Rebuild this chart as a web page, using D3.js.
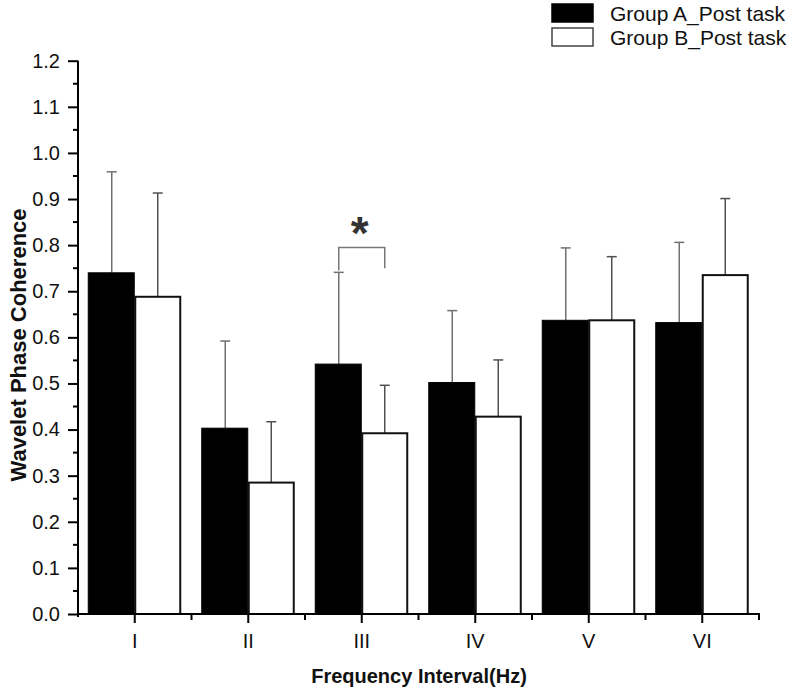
<!DOCTYPE html>
<html><head><meta charset="utf-8">
<script src="https://cdn.jsdelivr.net/npm/d3@7"></script>
<style>body{margin:0;background:#fff}svg{display:block;font-family:Arial,"Liberation Sans",sans-serif}</style>
</head><body><svg id="c" width="797" height="693"></svg>
<script>
const categories = ["I","II","III","IV","V","VI"];
const seriesNames = ["Group A_Post task","Group B_Post task"];
const groupA = [0.740,0.403,0.542,0.502,0.637,0.632];
const groupAErr = [0.219,0.189,0.199,0.156,0.157,0.174];
const groupB = [0.688,0.285,0.392,0.428,0.637,0.735];
const groupBErr = [0.225,0.132,0.104,0.123,0.138,0.166];
const yTicks = [0,0.1,0.2,0.3,0.4,0.5,0.6,0.7,0.8,0.9,1.0,1.1,1.2];

const FONT = "Arial,'Liberation Sans',sans-serif";
const svg = d3.select("#c");
const x = d3.scaleBand().domain(categories).range([78,759]).padding(0);
const y = d3.scaleLinear().domain([0,1.2]).range([614,60.7]);
const bw = 46;

const g = svg.append("g");
categories.forEach((c,i)=>{
  const cx = x(c)+x.bandwidth()/2;
  [[groupA[i],groupAErr[i],cx-bw/2,"#707070"],[groupB[i],groupBErr[i],cx+bw/2,"#505050"]].forEach(([v,e,ex,col])=>{
    g.append("line").attr("x1",ex).attr("x2",ex).attr("y1",y(v)).attr("y2",y(v+e)).attr("stroke",col).attr("stroke-width",1.5);
    g.append("line").attr("x1",ex-5).attr("x2",ex+5).attr("y1",y(v+e)).attr("y2",y(v+e)).attr("stroke",col).attr("stroke-width",1.5);
  });
  g.append("rect").attr("x",cx-bw-0.5).attr("y",y(groupA[i])).attr("width",bw).attr("height",y(0)-y(groupA[i])).attr("fill","#000").attr("stroke","#000").attr("stroke-width",1);
  g.append("rect").attr("x",cx+0.5).attr("y",y(groupB[i])).attr("width",bw-1).attr("height",y(0)-y(groupB[i])).attr("fill","#fff").attr("stroke","#111").attr("stroke-width",2);
});

// significance bracket on III
{
  const cx = x("III")+x.bandwidth()/2;
  const top = y(0.795);
  const l = cx-bw/2, r = cx+bw/2;
  g.append("path").attr("d",`M${l},${y(0.745)}V${top}H${r}V${y(0.75)}`).attr("fill","none").attr("stroke","#777").attr("stroke-width",1.5);
  g.append("text").attr("x",cx-2).attr("y",top+2).attr("text-anchor","middle").attr("font-size",46).attr("font-weight","bold").attr("fill","#333").attr("font-family",FONT).text("*");
}

// y axis
const ya = svg.append("g").attr("transform","translate(78,0)")
  .call(d3.axisLeft(y).tickValues(yTicks).tickFormat(d3.format(".1f")).tickSize(10).tickSizeOuter(0));
ya.select(".domain").attr("stroke-width",2).attr("d",`M0,${y(1.2)}V${y(0)+3}`);
ya.selectAll(".tick line").attr("stroke-width",2);
ya.selectAll("text").attr("font-size",20).attr("x",-18).attr("font-family",FONT).attr("fill","#111");
const minorY = d3.range(0.05,1.2,0.1);
ya.selectAll(".minor").data(minorY).enter().append("line").attr("x1",-5).attr("x2",0).attr("y1",d=>y(d)).attr("y2",d=>y(d)).attr("stroke","#000").attr("stroke-width",2);

// x axis
const xa = svg.append("g").attr("transform",`translate(0,${y(0)})`)
  .call(d3.axisBottom(x).tickSize(9).tickSizeOuter(0));
xa.select(".domain").attr("stroke-width",2).attr("d","M77,0H760");
xa.selectAll(".tick line").attr("stroke-width",2);
xa.selectAll("text").attr("font-size",20).attr("y",17).attr("dy","0.85em").attr("font-family",FONT).attr("fill","#111");
const bounds = categories.map(c=>x(c)+x.bandwidth());
xa.selectAll(".minor").data(bounds).enter().append("line").attr("x1",d=>d).attr("x2",d=>d).attr("y1",0).attr("y2",6).attr("stroke","#000").attr("stroke-width",2);

// axis titles
svg.append("text").attr("x",419).attr("y",683).attr("text-anchor","middle").attr("font-size",20).attr("font-weight","bold").attr("fill","#111").attr("font-family",FONT).text("Frequency Interval(Hz)");
svg.append("text").attr("transform","translate(26,345) rotate(-90)").attr("text-anchor","middle").attr("font-size",22).attr("font-weight","bold").attr("fill","#111").attr("font-family",FONT).text("Wavelet Phase Coherence");

// legend
const lg = svg.append("g");
seriesNames.forEach((s,i)=>{
  lg.append("rect").attr("x",552).attr("y",4+i*24).attr("width",41).attr("height",18).attr("fill",i?"#fff":"#000").attr("stroke",i?"#444":"#000").attr("stroke-width",1.5);
  lg.append("text").attr("x",610).attr("y",21+i*24).attr("font-size",21).attr("fill","#111").attr("font-family",FONT).text(s);
});
</script></body></html>
